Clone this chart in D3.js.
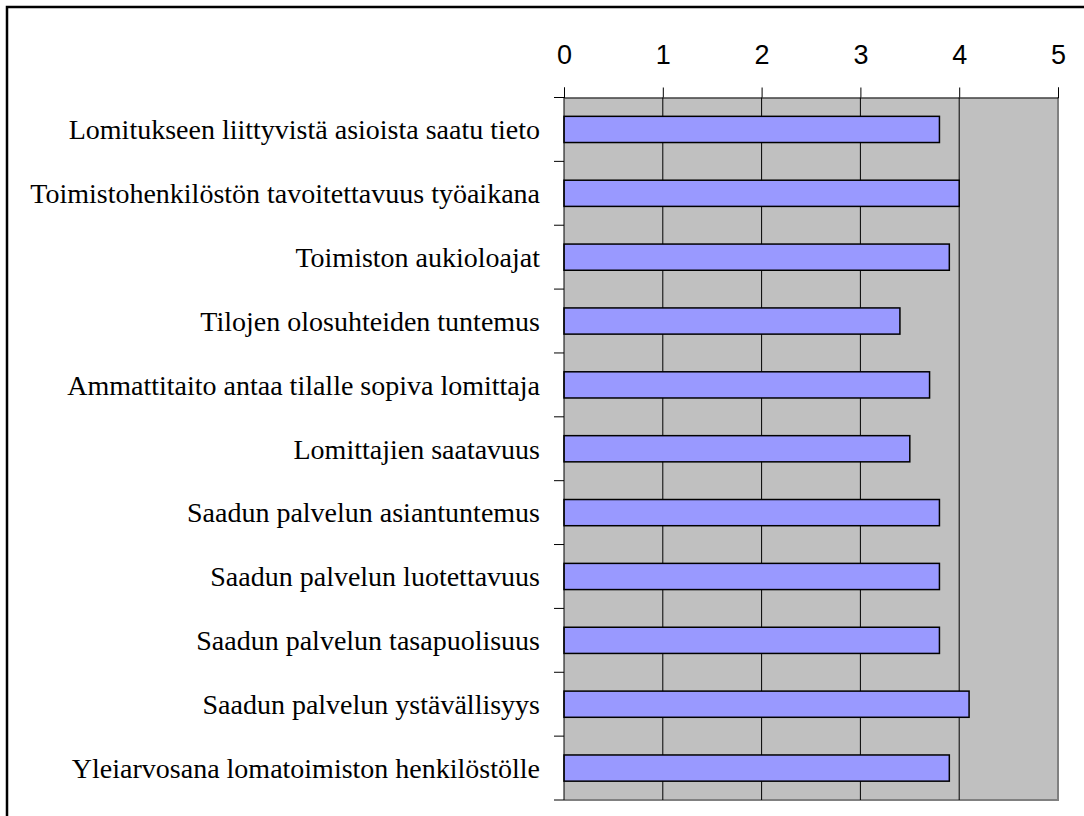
<!DOCTYPE html>
<html>
<head>
<meta charset="utf-8">
<script src="https://cdn.jsdelivr.net/npm/d3@7"></script>
<style>
  html, body { margin: 0; padding: 0; background: #ffffff; }
  svg { display: block; }
  .cat { font-family: "Liberation Serif", "Times New Roman", Times, "DejaVu Serif", serif; }
  .num { font-family: "Liberation Sans", Arial, Helvetica, sans-serif; }
</style>
</head>
<body>
<svg id="chart" width="1084" height="816"></svg>
<script>
const categories = [
  "Lomitukseen liittyvistä asioista saatu tieto",
  "Toimistohenkilöstön tavoitettavuus työaikana",
  "Toimiston aukioloajat",
  "Tilojen olosuhteiden tuntemus",
  "Ammattitaito antaa tilalle sopiva lomittaja",
  "Lomittajien saatavuus",
  "Saadun palvelun asiantuntemus",
  "Saadun palvelun luotettavuus",
  "Saadun palvelun tasapuolisuus",
  "Saadun palvelun ystävällisyys",
  "Yleiarvosana lomatoimiston henkilöstölle"
];
const values = [3.8, 4.0, 3.9, 3.4, 3.7, 3.5, 3.8, 3.8, 3.8, 4.1, 3.9];
const tickValues = [0, 1, 2, 3, 4, 5];

const svg = d3.select("#chart");

// outer frame
svg.append("rect")
  .attr("x", 7).attr("y", 7)
  .attr("width", 1100).attr("height", 830)
  .attr("fill", "none").attr("stroke", "#000").attr("stroke-width", 2.5);

const pLeft = 564, pRight = 1058, pTop = 97.5, pBottom = 800;
const x = d3.scaleLinear().domain([0, 5]).range([pLeft, pRight]);
const y = d3.scaleBand().domain(categories).range([pTop, pBottom]).padding(0);

// plot background
svg.append("rect")
  .attr("x", pLeft).attr("y", pTop)
  .attr("width", pRight - pLeft).attr("height", pBottom - pTop)
  .attr("fill", "#C0C0C0");
// gray right/bottom border
svg.append("path")
  .attr("d", `M${pRight},${pTop}V${pBottom}H${pLeft}`)
  .attr("fill", "none").attr("stroke", "#808080").attr("stroke-width", 2);

// gridlines
svg.append("g").selectAll("line")
  .data(tickValues.filter(d => d > 0 && d < 5))
  .join("line")
  .attr("x1", d => x(d)).attr("x2", d => x(d))
  .attr("y1", pTop).attr("y2", pBottom)
  .attr("stroke", "#000").attr("stroke-width", 1);

// bars
const barH = y.bandwidth() * 0.41;
svg.append("g").selectAll("rect")
  .data(values)
  .join("rect")
  .attr("x", x(0))
  .attr("y", (d, i) => y(categories[i]) + (y.bandwidth() - barH) / 2)
  .attr("width", d => x(d) - x(0))
  .attr("height", barH)
  .attr("fill", "#9999FF")
  .attr("stroke", "#000").attr("stroke-width", 1.5);

// top axis
const xAxis = d3.axisTop(x).tickValues(tickValues).tickSize(10).tickPadding(24).tickFormat(d3.format("d"));
const gx = svg.append("g").attr("transform", `translate(0,${pTop})`).call(xAxis);
gx.attr("font-family", null).attr("font-size", null);
gx.select(".domain").attr("stroke", "#000");
gx.selectAll(".tick line").attr("stroke", "#000");
gx.selectAll("text")
  .attr("class", "num")
  .style("font-size", "27px").attr("fill", "#000");

// left axis line and category boundary ticks
svg.append("line")
  .attr("x1", pLeft).attr("x2", pLeft).attr("y1", pTop).attr("y2", pBottom)
  .attr("stroke", "#000").attr("stroke-width", 1);
const boundaries = categories.map(c => y(c)).concat([pBottom]);
svg.append("g").selectAll("line")
  .data(boundaries)
  .join("line")
  .attr("x1", pLeft - 10).attr("x2", pLeft)
  .attr("y1", d => d).attr("y2", d => d)
  .attr("stroke", "#000").attr("stroke-width", 1);

// category labels
svg.append("g").selectAll("text")
  .data(categories)
  .join("text")
  .attr("class", "cat")
  .attr("x", pLeft - 24)
  .attr("y", d => y(d) + y.bandwidth() / 2)
  .attr("dy", "0.35em")
  .attr("text-anchor", "end")
  .style("font-size", "28px")
  .attr("fill", "#000")
  .text(d => d);
</script>
</body>
</html>
